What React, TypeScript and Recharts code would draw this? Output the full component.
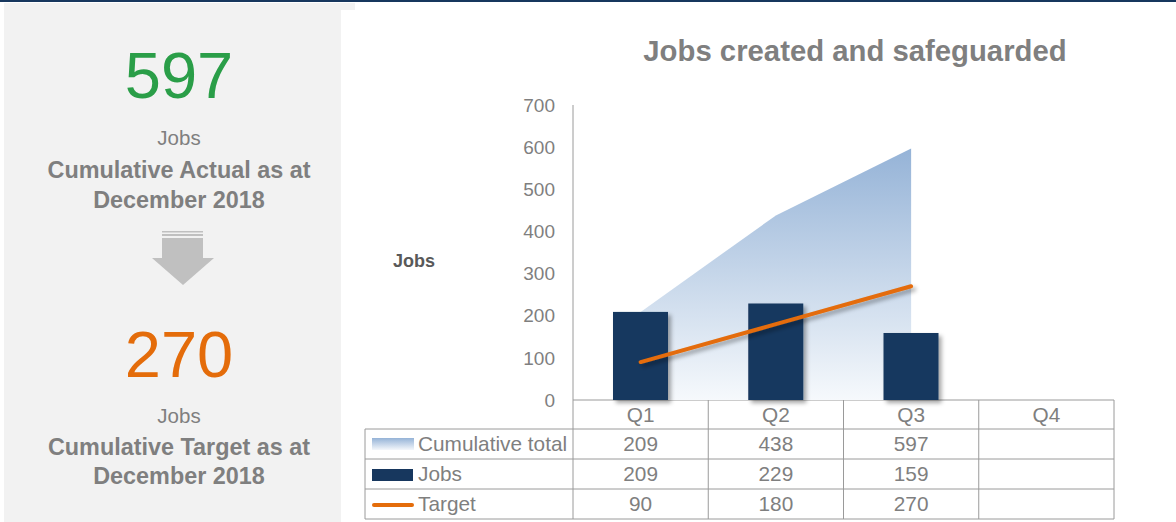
import React from "react"
import { ComposedChart, Area, Bar, Line, XAxis, YAxis } from "recharts"

const quarters = ["Q1", "Q2", "Q3", "Q4"]
const cumulativeTotal = [209, 438, 597, null]
const jobs = [209, 229, 159, null]
const target = [90, 180, 270, null]
const yTicks = [0, 100, 200, 300, 400, 500, 600, 700]

const actualToDate = 597
const targetToDate = 270

const rows = [
  { name: "Cumulative total", values: cumulativeTotal },
  { name: "Jobs", values: jobs },
  { name: "Target", values: target },
]

const data = quarters.map((q, i) => ({
  q,
  cumulative: cumulativeTotal[i],
  jobs: jobs[i],
  target: target[i],
}))

const NAVY = "#17375E"
const ORANGE = "#E46C0A"
const GREY_TEXT = "#7f7f7f"
const GRID = "#9a9a9a"
const FONT = "'Liberation Sans', Arial, sans-serif"

// table geometry (matches the plot's x range)
const plotLeft = 573
const plotRight = 1114
const tableLeft = 365
const rowTops = [400, 429, 459, 489, 519]
const colW = (plotRight - plotLeft) / quarters.length

function Decor() {
  return (
    <svg width={1176} height={522} style={{ position: "absolute", left: 0, top: 0 }}>
      <defs>
        <linearGradient id="keyGrad" x1="0" y1="0" x2="0" y2="1">
          <stop offset="0%" stopColor="#95B3D7" />
          <stop offset="100%" stopColor="#F4F7FB" />
        </linearGradient>
      </defs>
      <rect x={0} y={0} width={1176} height={2} fill={NAVY} />
      <rect x={4} y={3} width={351} height={519} fill="#f2f2f2" />
      <rect x={341} y={10} width={835} height={512} fill="#ffffff" />

      {/* left summary panel */}
      <g fontFamily={FONT} textAnchor="middle">
        <text x={179} y={98} fontSize={65} fill="#2A9E48">{actualToDate}</text>
        <text x={179} y={145} fontSize={20.5} fill={GREY_TEXT}>Jobs</text>
        <text x={179} y={178} fontSize={23.4} fontWeight="bold" fill={GREY_TEXT}>Cumulative Actual as at</text>
        <text x={179} y={208} fontSize={23.4} fontWeight="bold" fill={GREY_TEXT}>December 2018</text>

        <rect x={162} y={231} width={41} height={1.5} fill="#c0c0c0" />
        <rect x={162} y={234} width={41} height={2} fill="#c0c0c0" />
        <rect x={162} y={238} width={41} height={20} fill="#c0c0c0" />
        <polygon points="152,258 214,258 183,285" fill="#c0c0c0" />

        <text x={179} y={377} fontSize={65} fill={ORANGE}>{targetToDate}</text>
        <text x={179} y={423} fontSize={20.5} fill={GREY_TEXT}>Jobs</text>
        <text x={179} y={455} fontSize={23.4} fontWeight="bold" fill={GREY_TEXT}>Cumulative Target as at</text>
        <text x={179} y={484} fontSize={23.4} fontWeight="bold" fill={GREY_TEXT}>December 2018</text>
      </g>

      <text x={855} y={61} textAnchor="middle" fontFamily={FONT} fontSize={29.3} fontWeight="bold" fill={GREY_TEXT}>
        Jobs created and safeguarded
      </text>
      <text x={393} y={267} fontFamily={FONT} fontSize={18} fontWeight="bold" fill="#595959">
        Jobs
      </text>

      {/* data table */}
      <g stroke={GRID} strokeWidth={1}>
        <line x1={plotLeft} y1={rowTops[0]} x2={plotRight} y2={rowTops[0]} />
        {rowTops.slice(1).map((y) => (
          <line key={y} x1={tableLeft} y1={y} x2={plotRight} y2={y} />
        ))}
        <line x1={tableLeft} y1={rowTops[1]} x2={tableLeft} y2={rowTops[4]} />
        {quarters.map((q, i) => (
          <line key={q} x1={plotLeft + i * colW} y1={rowTops[0]} x2={plotLeft + i * colW} y2={rowTops[4]} />
        ))}
        <line x1={plotRight} y1={rowTops[0]} x2={plotRight} y2={rowTops[4]} />
      </g>
      <g fontFamily={FONT} fontSize={20.8} fill={GREY_TEXT}>
        {quarters.map((q, i) => (
          <text key={q} x={plotLeft + (i + 0.5) * colW} y={(rowTops[0] + rowTops[1]) / 2 + 7} textAnchor="middle">
            {q}
          </text>
        ))}
        {rows.map((r, ri) => {
          const cy = (rowTops[ri + 1] + rowTops[ri + 2]) / 2
          return (
            <g key={r.name}>
              <text x={418} y={cy + 7}>{r.name}</text>
              {r.values.map((v, i) =>
                v == null ? null : (
                  <text key={i} x={plotLeft + (i + 0.5) * colW} y={cy + 7} textAnchor="middle">
                    {v}
                  </text>
                )
              )}
            </g>
          )
        })}
      </g>
      <rect x={372} y={438} width={42} height={12} fill="url(#keyGrad)" />
      <rect x={372} y={469} width={41} height={12} fill={NAVY} />
      <line x1={374} y1={505} x2={412} y2={505} stroke={ORANGE} strokeWidth={4} strokeLinecap="round" />
    </svg>
  )
}

export default function App() {
  return (
    <div style={{ position: "absolute", left: 0, top: 0, width: 1176, height: 522, fontFamily: FONT, overflow: "hidden" }}>
      <Decor />
      <div style={{ position: "absolute", left: 0, top: 0 }}>
        <ComposedChart
          width={1176}
          height={522}
          data={data}
          margin={{ top: 105, right: 1176 - plotRight, bottom: 522 - 400, left: plotLeft - 60 }}
        >
          <defs>
            <linearGradient id="cumGrad" x1="0" y1="0" x2="0" y2="1">
              <stop offset="0%" stopColor="#95B3D7" />
              <stop offset="100%" stopColor="#F6F9FC" />
            </linearGradient>
            <filter id="dropShadow" filterUnits="userSpaceOnUse" x={0} y={0} width={1176} height={522}>
              <feDropShadow dx={3} dy={3} stdDeviation={2} floodColor="#000" floodOpacity={0.35} />
            </filter>
          </defs>
          <XAxis dataKey="q" hide />
          <YAxis
            width={60}
            domain={[0, 700]}
            ticks={yTicks}
            interval={0}
            tickLine={false}
            tickSize={0}
            tickMargin={18}
            axisLine={{ stroke: GRID, strokeWidth: 1 }}
            tick={{ fill: GREY_TEXT, fontSize: 19 }}
          />
          <Area
            type="linear"
            dataKey="cumulative"
            stroke="none"
            fill="url(#cumGrad)"
            fillOpacity={1}
            isAnimationActive={false}
          />
          <Bar
            dataKey="jobs"
            barSize={55}
            fill={NAVY}
            isAnimationActive={false}
            shape={(p: any) =>
              p.height > 0 ? (
                <rect x={p.x} y={p.y} width={p.width} height={p.height} fill={NAVY} filter="url(#dropShadow)" />
              ) : (
                <g />
              )
            }
          />
          <Line
            type="linear"
            dataKey="target"
            stroke={ORANGE}
            strokeWidth={4}
            strokeLinecap="round"
            dot={false}
            activeDot={false}
            filter="url(#dropShadow)"
            isAnimationActive={false}
          />
        </ComposedChart>
      </div>
    </div>
  )
}
